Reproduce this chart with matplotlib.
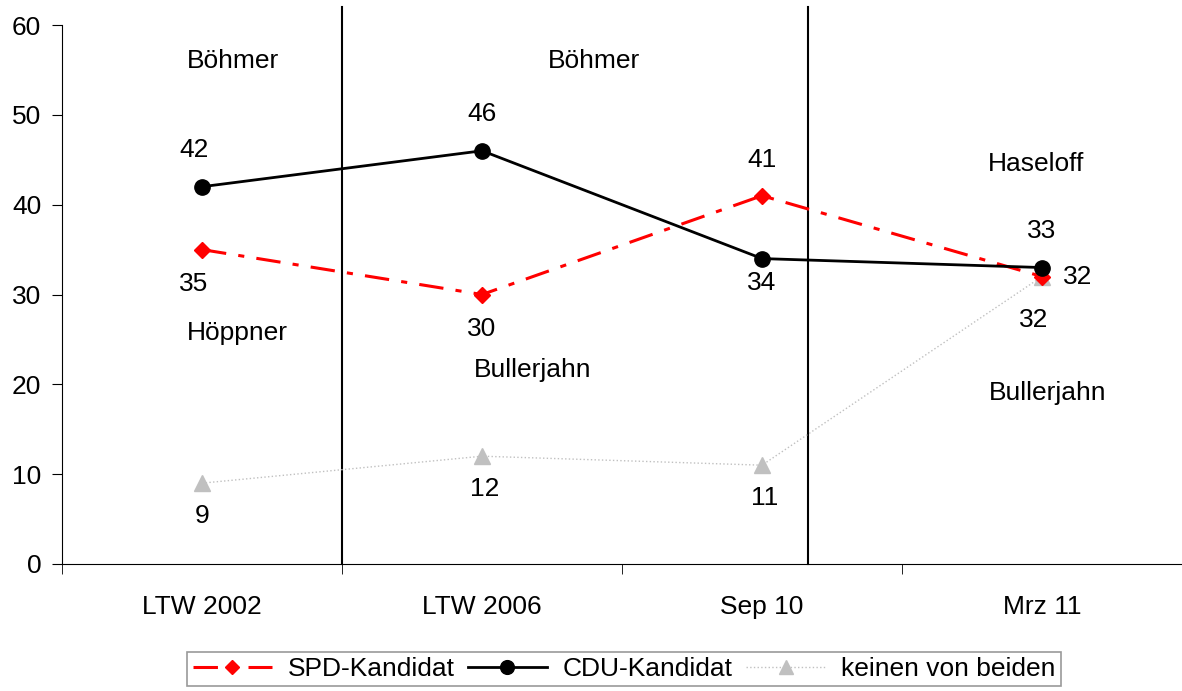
import matplotlib
matplotlib.use("Agg")
import matplotlib.pyplot as plt
from matplotlib.ticker import FixedLocator

plt.rcParams['font.family'] = ['Liberation Sans', 'DejaVu Sans']

categories = ["LTW 2002", "LTW 2006", "Sep 10", "Mrz 11"]
spd = [35, 30, 41, 32]
cdu = [42, 46, 34, 33]
keinen = [9, 12, 11, 32]
series_names = ["SPD-Kandidat", "CDU-Kandidat", "keinen von beiden"]

# candidate name annotations (x index, y value, text)
name_labels = [
    (0.11, 56.0, "Böhmer"),
    (1.40, 56.0, "Böhmer"),
    (2.98, 44.5, "Haseloff"),
    (0.125, 25.7, "Höppner"),
    (1.18, 21.6, "Bullerjahn"),
    (3.02, 19.0, "Bullerjahn"),
]
divider_x = [0.5, 2.165]

fig = plt.figure(figsize=(11.82, 6.91), dpi=100)
ax = fig.add_axes([0.0525, 0.1838, 0.9475, 0.78])
x = list(range(len(categories)))

fs = 19
l1, = ax.plot(x, spd, color='#ff0000', lw=2.2, ls=(0, (8, 4, 2, 4)),
              marker='D', ms=8, mfc='#ff0000', mec='#ff0000', zorder=3)
l2, = ax.plot(x, cdu, color='black', lw=2, marker='o', ms=11, zorder=4)
l3, = ax.plot(x, keinen, color='#c0c0c0', lw=1, ls=':', marker='^', ms=11,
              mfc='#c0c0c0', mec='#c0c0c0', zorder=2)

# data labels
for i, v in enumerate(cdu):
    if i == 2:
        ax.text(i, v - 2.7, str(v), ha='center', va='center', fontsize=fs)
    else:
        ax.text(i - (0.03 if i == 0 else 0), v + 4.1, str(v), ha='center', va='center', fontsize=fs)
for i, v in enumerate(spd):
    if i == 2:
        ax.text(i, v + 4.0, str(v), ha='center', va='center', fontsize=fs)
    elif i == 3:
        ax.text(i + 0.128, v, str(v), ha='center', va='center', fontsize=fs)
    else:
        ax.text(i - (0.03 if i == 0 else 0), v - 3.8, str(v), ha='center', va='center', fontsize=fs)
for i, v in enumerate(keinen):
    if i == 3:
        ax.text(i - 0.03, v - 4.8, str(v), ha='center', va='center', fontsize=fs)
    else:
        ax.text(i + (0.01 if i else 0), v - 3.7, str(v), ha='center', va='center', fontsize=fs)

for (xi, yi, t) in name_labels:
    ax.text(xi, yi, t, ha='center', va='center', fontsize=fs)

for dx in divider_x:
    ax.plot([dx, dx], [0, 62], color='black', lw=1.5, clip_on=False, zorder=1)

ax.set_xlim(-0.5, 3.5)
ax.set_ylim(0, 60)
ax.set_yticks(range(0, 61, 10))
ax.set_xticks(x)
ax.set_xticklabels(categories)
ax.xaxis.set_minor_locator(FixedLocator([-0.5, 0.5, 1.5, 2.5, 3.5]))
ax.tick_params(axis='x', which='major', length=0, pad=22, labelsize=fs)
ax.tick_params(axis='x', which='minor', length=7, direction='out')
ax.tick_params(axis='y', length=7, direction='out', labelsize=fs, pad=8)
ax.spines['top'].set_visible(False)
ax.spines['right'].set_visible(False)

leg = fig.legend([l1, l2, l3], series_names, loc='center',
                 bbox_to_anchor=(0.528, 0.032), ncol=3, fontsize=fs,
                 frameon=True, fancybox=False, edgecolor='#808080',
                 handlelength=3.0, handletextpad=0.6, columnspacing=0.5,
                 borderpad=0.2, markerscale=0.9)
leg.get_frame().set_linewidth(1.2)

fig.savefig("out.png", dpi=100)
